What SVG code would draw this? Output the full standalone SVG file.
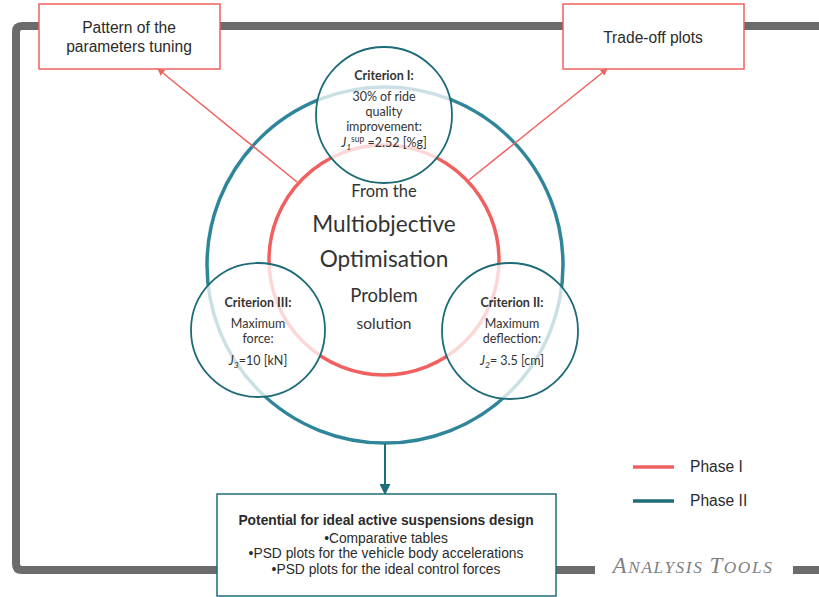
<svg xmlns="http://www.w3.org/2000/svg" width="819" height="597" viewBox="0 0 819 597">
  <defs>
    <marker id="arrowRed" viewBox="0 0 10 10" refX="9" refY="5" markerWidth="7" markerHeight="7" orient="auto" markerUnits="userSpaceOnUse">
      <path d="M0,0 L10,5 L0,10 z" fill="#f0605e"/>
    </marker>
    <marker id="arrowTeal" viewBox="0 0 10 10" refX="9" refY="5" markerWidth="11" markerHeight="11" orient="auto" markerUnits="userSpaceOnUse">
      <path d="M0,0 L10,5 L0,10 z" fill="#1f6d7a"/>
    </marker>
  </defs>
  <style>
    .frame { fill: none; stroke: #6b6b6b; stroke-width: 8; }
    .box-red { fill: #ffffff; stroke: #f0605e; stroke-width: 1.5; }
    .box-teal { fill: #ffffff; stroke: #1f6d7a; stroke-width: 1.5; }
    .phase1 { fill: none; stroke: #f0605e; stroke-width: 3.5; }
    .phase2 { fill: none; stroke: #2f8599; stroke-width: 3.5; }
    .crit { fill: #ffffff; fill-opacity: 0.75; stroke: #1d6b77; stroke-width: 1.8; }
    .arial { font-family: "Liberation Sans", Arial, sans-serif; fill: #2b2b2b; text-anchor: middle; }
    .cal { font-family: Lato, "Open Sans", sans-serif; fill: #333333; text-anchor: middle; }
    .critT { font-size: 12.5px; font-weight: bold; }
    .critB { font-size: 12.5px; }
    .conn-red { stroke: #f0605e; stroke-width: 1.5; fill: none; }
    .conn-teal { stroke: #1f6d7a; stroke-width: 2; fill: none; }
  </style>

  <rect width="819" height="597" fill="#ffffff"/>

  <!-- analysis tools frame -->
  <g id="frame">
    <path class="frame" d="M819,26 H22 Q16,26 16,32 V564 Q16,570 22,570 H595"/>
    <path class="frame" d="M793,570 H819"/>
    <text x="693" y="573" font-family="Liberation Serif, Times New Roman, serif" font-style="italic" fill="#7f7f7f" text-anchor="middle" letter-spacing="1.6"><tspan font-size="23">A</tspan><tspan font-size="17.3">NALYSIS </tspan><tspan font-size="23">T</tspan><tspan font-size="17.3">OOLS</tspan></text>
  </g>

  <!-- phases -->
  <g id="phase2-circle">
    <circle class="phase2" cx="385" cy="265" r="178"/>
  </g>
  <g id="phase1-circle">
    <circle class="phase1" cx="384" cy="260" r="115"/>
  </g>

  <!-- connectors -->
  <g id="connectors">
    <line class="conn-red" x1="297" y1="182" x2="158" y2="69" marker-end="url(#arrowRed)"/>
    <line class="conn-red" x1="469" y1="180" x2="607" y2="69" marker-end="url(#arrowRed)"/>
    <line class="conn-teal" x1="385" y1="444" x2="385" y2="494" marker-end="url(#arrowTeal)"/>
  </g>

  <!-- criteria -->
  <g id="criterion-1">
    <circle class="crit" cx="384" cy="115" r="68"/>
    <text class="cal critT" x="384" y="80">Criterion I:</text>
    <text class="cal critB" x="384" y="101">30% of ride</text>
    <text class="cal critB" x="384" y="116">quality</text>
    <text class="cal critB" x="384" y="131">improvement:</text>
    <text class="cal critB" x="384" y="147"><tspan font-style="italic">J</tspan><tspan font-style="italic" font-size="8.5" dy="3">1</tspan><tspan font-size="8.5" dy="-8">sup</tspan><tspan dy="5"> =2.52 [%g]</tspan></text>
  </g>
  <g id="criterion-3">
    <circle class="crit" cx="258" cy="330" r="67"/>
    <text class="cal critT" x="258" y="307">Criterion III:</text>
    <text class="cal critB" x="258" y="328">Maximum</text>
    <text class="cal critB" x="258" y="343">force:</text>
    <text class="cal critB" x="258" y="365"><tspan font-style="italic">J</tspan><tspan font-style="italic" font-size="8.5" dy="3">3</tspan><tspan dy="-3">=10 [kN]</tspan></text>
  </g>
  <g id="criterion-2">
    <circle class="crit" cx="510" cy="331" r="68"/>
    <text class="cal critT" x="512" y="307">Criterion II:</text>
    <text class="cal critB" x="512" y="328">Maximum</text>
    <text class="cal critB" x="512" y="343">deflection:</text>
    <text class="cal critB" x="512" y="365"><tspan font-style="italic">J</tspan><tspan font-style="italic" font-size="8.5" dy="3">2</tspan><tspan dy="-3">= 3.5 [cm]</tspan></text>
  </g>

  <!-- centre statement -->
  <g id="moo-problem">
    <text class="cal" x="384" y="197" font-size="16.5">From the</text>
    <text class="cal" x="384" y="232" font-size="22.6">Multiobjective</text>
    <text class="cal" x="384" y="267" font-size="22.6">Optimisation</text>
    <text class="cal" x="384" y="302" font-size="18.5">Problem</text>
    <text class="cal" x="384" y="329" font-size="15.5">solution</text>
  </g>

  <!-- outputs -->
  <g id="pattern-box">
    <rect class="box-red" x="39" y="4" width="181" height="65"/>
    <text class="arial" x="129" y="33" font-size="15.6">Pattern of the</text>
    <text class="arial" x="129" y="52" font-size="15.6">parameters tuning</text>
  </g>
  <g id="tradeoff-box">
    <rect class="box-red" x="563" y="4" width="181" height="65"/>
    <text class="arial" x="653" y="43" font-size="15.6">Trade-off plots</text>
  </g>
  <g id="potential-box">
    <rect class="box-teal" x="217" y="494" width="339" height="102"/>
    <text class="arial" x="386" y="525" font-size="13.8" font-weight="bold">Potential for ideal active suspensions design</text>
    <text class="arial" x="386" y="543" font-size="13.8">•Comparative tables</text>
    <text class="arial" x="386" y="558" font-size="13.8">•PSD plots for the vehicle body accelerations</text>
    <text class="arial" x="386" y="574" font-size="13.8">•PSD plots for the ideal control forces</text>
  </g>

  <!-- legend -->
  <g id="legend">
    <line x1="633" y1="467" x2="674" y2="467" stroke="#f0605e" stroke-width="3.5"/>
    <text class="arial" x="690" y="472" font-size="15.6" style="text-anchor:start">Phase I</text>
    <line x1="633" y1="501" x2="674" y2="501" stroke="#1f6d7a" stroke-width="3.5"/>
    <text class="arial" x="690" y="506" font-size="15.6" style="text-anchor:start">Phase II</text>
  </g>
</svg>
